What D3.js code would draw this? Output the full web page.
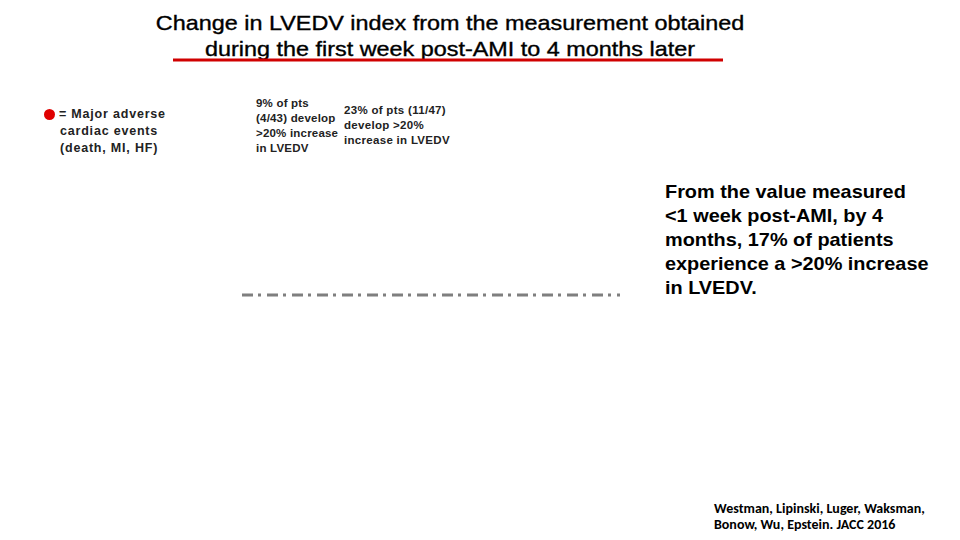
<!DOCTYPE html>
<html><head><meta charset="utf-8">
<script src="https://cdn.jsdelivr.net/npm/d3@7"></script>
<style>
html,body{margin:0;padding:0;background:#fff;}
svg{display:block;}
</style></head>
<body>
<script>
const titleLines = ["Change in LVEDV index from the measurement obtained","during the first week post-AMI to 4 months later"];
const legendLines = ["= Major adverse","cardiac events","(death, MI, HF)"];
const groupA = ["9% of pts","(4/43) develop",">20% increase","in LVEDV"];
const groupB = ["23% of pts (11/47)","develop >20%","increase in LVEDV"];
const summaryLines = ["From the value measured","<1 week post-AMI, by 4","months, 17% of patients","experience a >20% increase","in LVEDV."];
const citationLines = ["Westman, Lipinski, Luger, Waksman,","Bonow, Wu, Epstein. JACC 2016"];
const thresholdValue = [20];  // % increase reference line

const W = 960, H = 540;
const svg = d3.select("body").append("svg").attr("width", W).attr("height", H);

const x = d3.scaleLinear().domain([0, 1]).range([242, 620]);
const y = d3.scaleLinear().domain([0, 40]).range([370, 220]);

const sans = "Liberation Sans, Arial, sans-serif";

// title (horizontally widened like the original)
svg.append("g").attr("transform", "translate(450,0) scale(1.17,1)")
  .selectAll("text").data(titleLines).join("text")
  .attr("x", 0).attr("y", (d,i) => 30.5 + i*25.5)
  .attr("text-anchor", "middle")
  .style("font-family", sans)
  .style("font-size", "20px").style("fill", "#000")
  .style("stroke", "#000").style("stroke-width", "0.35px")
  .text(d => d);
svg.append("line").attr("x1", 173).attr("x2", 723).attr("y1", 60).attr("y2", 60)
  .attr("stroke", "#d00000").attr("stroke-width", 3);

// legend
svg.append("circle").attr("cx", 49.5).attr("cy", 114.5).attr("r", 5.5).attr("fill", "#e00000");
svg.append("g").selectAll("text").data(legendLines).join("text")
  .attr("x", (d,i) => i === 0 ? 59 : 60).attr("y", (d,i) => 118 + i*17)
  .style("font-family", sans)
  .style("font-size", "12.5px").style("font-weight", "bold").style("fill", "#222")
  .style("letter-spacing", "0.8px")
  .text(d => d);

// group annotations
svg.append("g").selectAll("text").data(groupA).join("text")
  .attr("x", 256).attr("y", (d,i) => 107 + i*15)
  .style("font-family", sans)
  .style("font-size", "11.5px").style("font-weight", "bold").style("fill", "#222")
  .style("letter-spacing", "0.2px")
  .text(d => d);
svg.append("g").selectAll("text").data(groupB).join("text")
  .attr("x", 344).attr("y", (d,i) => 114 + i*15)
  .style("font-family", sans)
  .style("font-size", "11.5px").style("font-weight", "bold").style("fill", "#222")
  .style("letter-spacing", "0.3px")
  .text(d => d);

// threshold line
svg.append("g").selectAll("line").data(thresholdValue).join("line")
  .attr("x1", x(0)).attr("x2", x(1))
  .attr("y1", d => y(d)).attr("y2", d => y(d))
  .attr("stroke", "#7f7f7f").attr("stroke-width", 3)
  .attr("stroke-dasharray", "11,5,3,6");

// summary (horizontally widened)
svg.append("g").attr("transform", "translate(665,0) scale(1.105,1)")
  .selectAll("text").data(summaryLines).join("text")
  .attr("x", 0).attr("y", (d,i) => 198 + i*24)
  .style("font-family", sans)
  .style("font-size", "18px").style("font-weight", "bold").style("fill", "#000")
  .text(d => d);

// citation
svg.append("g").selectAll("text").data(citationLines).join("text")
  .attr("x", 714).attr("y", (d,i) => 513 + i*16)
  .style("font-family", "Carlito, Calibri, 'Open Sans', sans-serif")
  .style("font-size", "14px").style("font-weight", "bold").style("fill", "#000")
  .text(d => d);
</script>
</body></html>
